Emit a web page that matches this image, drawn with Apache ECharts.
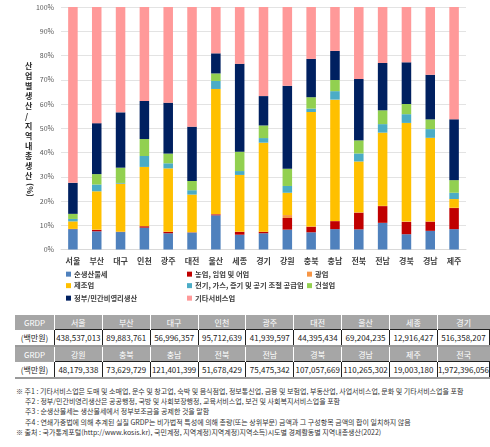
<!DOCTYPE html>
<html><head><meta charset="utf-8">
<script src="https://cdn.jsdelivr.net/npm/echarts@6/dist/echarts.min.js"></script>
<style>
html,body{margin:0;padding:0;background:#fff;width:490px;height:447px;overflow:hidden;font-family:"Noto Sans CJK KR","Noto Sans",sans-serif;}
#chart{position:absolute;left:0;top:0;width:490px;height:310px;}
#tbl{position:absolute;left:15px;top:315px;border-collapse:collapse;font-size:8px;}
#tbl td{padding:0;text-align:center;white-space:nowrap;}
#tbl td.h{background:#A6A6A6;color:#fff;height:14px;border-left:1px solid #fff;}
#tbl td.h0{background:#A6A6A6;color:#fff;height:14px;}
#tbl td.v{height:15px;border:1px solid #222;color:#222;}
#tbl td.u{color:#222;}
#tbl tr.vr{border-bottom:2px solid #9a9a9a;}
#notes{position:absolute;left:16px;top:386px;font-size:7px;line-height:10.2px;color:#333;white-space:nowrap;}
#notes .ind{padding-left:9px;}
</style></head>
<body>
<div id="chart"></div>
<table id="tbl"></table>
<div id="notes"></div>
<script>
var categories = ['서울','부산','대구','인천','광주','대전','울산','세종','경기','강원','충북','충남','전북','전남','경북','경남','제주'];
var seriesNames = ['순생산물세','농업, 임업 및 어업','광업','제조업','전기, 가스, 증기 및 공기 조절 공급업','건설업','정부/민간비영리생산','기타서비스업'];
var netTax     = [8.4,7.5,7.2,9.0,6.7,7.0,14.1,6.1,6.7,8.2,7.1,8.4,8.3,11.0,6.3,7.7,8.4];
var agri       = [0.05,0.6,0.1,0.6,0.6,0.1,0.4,1.2,0.6,4.8,2.3,3.3,6.9,6.9,5.1,3.8,8.7];
var mining     = [0.05,0.1,0.05,0.05,0.05,0.05,0.1,0.05,0.05,1.2,0.1,0.1,0.1,0.1,0.1,0.05,0.1];
var manuf      = [3.1,15.8,19.8,24.4,26.1,15.5,51.6,23.4,36.7,9.2,47.2,50.0,21.0,30.2,40.7,34.5,3.6];
var utility    = [1.0,2.8,0.3,4.5,2.1,1.8,3.3,1.6,1.9,2.8,1.4,3.5,3.3,3.5,3.6,3.6,2.6];
var construct  = [2.1,4.3,6.3,7.0,4.0,3.8,3.1,8.0,5.2,7.1,4.7,4.6,5.4,5.7,4.2,4.0,5.2];
var government = [12.8,21.0,22.8,15.7,21.0,22.4,8.3,36.2,12.1,34.2,15.8,12.0,25.3,19.5,17.2,18.4,25.1];
var otherServ  = [72.5,47.9,43.5,38.8,39.5,49.4,19.1,23.5,36.8,32.5,21.4,18.1,29.7,23.1,22.8,28.0,46.3];
var colors = ['#4F81BD','#C00000','#F79646','#FFC000','#4BACC6','#92D050','#002060','#FF9999'];

var tableRegions1 = ['서울','부산','대구','인천','광주','대전','울산','세종','경기'];
var tableValues1  = ['438,537,013','89,883,761','56,996,357','95,712,639','41,939,597','44,395,434','69,204,235','12,916,427','516,358,207'];
var tableRegions2 = ['강원','충북','충남','전북','전남','경북','경남','제주','전국'];
var tableValues2  = ['48,179,338','73,629,729','121,401,399','51,678,429','75,475,342','107,057,669','110,265,302','19,003,180','1,972,396,056'];
var noteLines = [
 '※ 주1 : 기타서비스업은 도매 및 소매업, 운수 및 창고업, 숙박 및 음식점업, 정보통신업, 금융 및 보험업, 부동산업, 사업서비스업, 문화 및 기타서비스업을 포함',
 '주2 : 정부/민간비영리생산은 공공행정, 국방 및 사회보장행정, 교육서비스업, 보건 및 사회복지서비스업을 포함',
 '주3 : 순생산물세는 생산물세에서 정부보조금을 공제한 것을 말함',
 '주4 : 연쇄가중법에 의해 추계된 실질 GRDP는 비가법적 특성에 의해 총량(또는 상위부문) 금액과 그 구성항목 금액의 합이 일치하지 않음',
 '※ 출처 : 국가통계포털(http://www.kosis.kr), 국민계정, 지역계정)지역계정)지역소득)시도별 경제활동별 지역내총생산(2022)'
];

var dataArr = [netTax,agri,mining,manuf,utility,construct,government,otherServ];
var series = seriesNames.map(function(n,i){
  return {name:n,type:'bar',stack:'total',barWidth:'40%',data:dataArr[i],itemStyle:{color:colors[i]},emphasis:{disabled:true}};
});
// legend layout: 3 columns x 3 rows (row-major order of items)
var legCols = [66,187,307];
var legRows = [270.5,282,294.5];
var legends = seriesNames.map(function(n,i){
  return {data:[n],left:legCols[i%3],top:legRows[Math.floor(i/3)],itemWidth:5,itemHeight:5,icon:'rect',padding:0,
    textStyle:{fontSize:7.3,fontWeight:'bold',color:'#404040',fontFamily:'Noto Sans CJK KR',padding:[0,0,0,-2]}};
});

var chart = echarts.init(document.getElementById('chart'),null,{renderer:'canvas'});
chart.setOption({
  animation:false,
  textStyle:{fontFamily:'Noto Sans CJK KR'},
  grid:{left:61,width:405,top:7,height:242.5},
  xAxis:{type:'category',data:categories,axisTick:{show:false},
    axisLine:{lineStyle:{color:'#D9D9D9'}},
    axisLabel:{fontSize:8,fontWeight:'bold',color:'#404040',margin:7,interval:0}},
  yAxis:{type:'value',min:0,max:100,interval:10,
    axisLabel:{formatter:'{value}%',fontSize:7,color:'#595959',margin:7},
    splitLine:{lineStyle:{color:'#E3E3E3'}}},
  legend:legends,
  graphic:[
    {type:'text',left:25,top:61,style:{text:'산\n업\n별\n생\n산\n/\n지\n역\n내\n총\n생\n산',fontSize:8,lineHeight:10,fontWeight:'bold',fill:'#262626',align:'center',fontFamily:'Noto Sans CJK KR'}},
    {type:'text',x:30,y:190,rotation:-Math.PI/2,style:{text:'(%)',fontSize:8,fontWeight:'bold',fill:'#262626',align:'center',verticalAlign:'middle',fontFamily:'Noto Sans CJK KR'}}
  ],
  series:series
});

// table
var colW = 46.9;
function rowHtml(cls,first,firstCls,cells){
  var h='<tr class="'+cls+'"><td class="'+firstCls+'" style="width:39px">'+first+'</td>';
  cells.forEach(function(c){h+='<td class="'+(firstCls==='h0'?'h':'v')+'" style="width:'+colW+'px">'+c+'</td>';});
  return h+'</tr>';
}
document.getElementById('tbl').innerHTML =
  rowHtml('hr','GRDP','h0',tableRegions1)+rowHtml('vr','(백만원)','u',tableValues1)+
  rowHtml('hr','GRDP','h0',tableRegions2)+rowHtml('vr','(백만원)','u',tableValues2);
document.getElementById('notes').innerHTML = noteLines.map(function(l,i){
  return '<div class="'+((i>0&&i<4)?'ind':'')+'">'+l+'</div>';}).join('');
</script>
</body></html>
